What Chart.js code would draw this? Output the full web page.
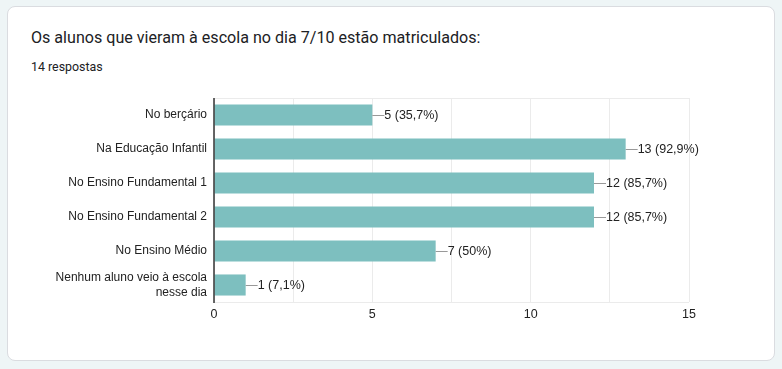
<!DOCTYPE html>
<html>
<head>
<meta charset="utf-8">
<script src="https://cdn.jsdelivr.net/npm/chart.js@4/dist/chart.umd.min.js"></script>
<style>
  html, body { margin: 0; padding: 0; width: 782px; height: 369px; background: #eef5f6; overflow: hidden; }
  #card { position: absolute; left: 7px; top: 6px; width: 766px; height: 353px; background: #fff; border: 1px solid #dadce0; border-radius: 8px; }
  #title { position: absolute; left: 31px; top: 28px; font-family: Roboto, Arial, sans-serif; font-size: 16.1px; color: #202124; white-space: nowrap; }
  #sub { position: absolute; left: 31px; top: 59px; font-family: Roboto, Arial, sans-serif; font-size: 12.4px; color: #202124; white-space: nowrap; }
  #wrap { position: absolute; left: 0; top: 0; width: 782px; height: 369px; }
</style>
</head>
<body>
<div id="card"></div>
<div id="title">Os alunos que vieram à escola no dia 7/10 estão matriculados:</div>
<div id="sub">14 respostas</div>
<div id="wrap"><canvas id="c" width="782" height="369"></canvas></div>
<script>
const categories = [
  "No berçário",
  "Na Educação Infantil",
  "No Ensino Fundamental 1",
  "No Ensino Fundamental 2",
  "No Ensino Médio",
  ["Nenhum aluno veio à escola", "nesse dia"]
];
const counts = [5, 13, 12, 12, 7, 1];
const valueLabels = ["5 (35,7%)", "13 (92,9%)", "12 (85,7%)", "12 (85,7%)", "7 (50%)", "1 (7,1%)"];
const xTicks = [0, 5, 10, 15];

const FONT = "Arial, 'Liberation Sans', sans-serif";

const boxPlugin = {
  id: 'box',
  beforeDatasetsDraw(chart) {
    const a = chart.chartArea, ctx = chart.ctx;
    ctx.save();
    ctx.strokeStyle = '#ebebeb';
    ctx.lineWidth = 1;
    ctx.beginPath();
    ctx.moveTo(a.left, a.top + 0.5); ctx.lineTo(a.right, a.top + 0.5);
    ctx.moveTo(a.left, a.bottom + 0.5); ctx.lineTo(a.right, a.bottom + 0.5);
    ctx.stroke();
    ctx.restore();
  },
  afterDatasetsDraw(chart) {
    const ctx = chart.ctx, a = chart.chartArea;
    ctx.save();
    ctx.strokeStyle = '#333';
    ctx.lineWidth = 1.5;
    ctx.beginPath();
    ctx.moveTo(a.left, a.top); ctx.lineTo(a.left, a.bottom + 1);
    ctx.stroke();
    const meta = chart.getDatasetMeta(0);
    ctx.font = "12.5px " + FONT;
    ctx.fillStyle = '#222';
    ctx.textBaseline = 'middle';
    ctx.strokeStyle = '#999';
    ctx.lineWidth = 1;
    meta.data.forEach((bar, i) => {
      const x = bar.x, y = bar.y;
      ctx.beginPath();
      ctx.moveTo(x, Math.round(y) + 0.5); ctx.lineTo(x + 12, Math.round(y) + 0.5);
      ctx.stroke();
      ctx.fillText(valueLabels[i], x + 12, y + 0.5);
    });
    ctx.restore();
  }
};

new Chart(document.getElementById('c'), {
  type: 'bar',
  data: {
    labels: categories,
    datasets: [{
      data: counts,
      backgroundColor: '#7dbfbf',
      categoryPercentage: 0.62,
      barPercentage: 1.0
    }]
  },
  options: {
    indexAxis: 'y',
    responsive: false,
    animation: false,
    layout: { padding: { left: 14, right: 93, top: 98, bottom: 37 } },
    plugins: { legend: { display: false }, tooltip: { enabled: false } },
    scales: {
      x: {
        min: 0, max: 15,
        ticks: {
          stepSize: 2.5,
          autoSkip: false,
          maxRotation: 0,
          color: '#222',
          font: { family: FONT, size: 12.5 },
          padding: 5,
          callback: (v) => xTicks.includes(v) ? String(v) : ''
        },
        grid: { color: '#ebebeb', drawTicks: false },
        border: { display: false },
        afterFit: (s) => { s.height = 30; }
      },
      y: {
        ticks: {
          color: '#222',
          font: { family: FONT, size: 12, lineHeight: '15px' },
          padding: 7,
          autoSkip: false
        },
        grid: { display: false, drawTicks: false },
        border: { display: false },
        afterFit: (s) => { s.width = 200; }
      }
    }
  },
  plugins: [boxPlugin]
});
</script>
</body>
</html>
